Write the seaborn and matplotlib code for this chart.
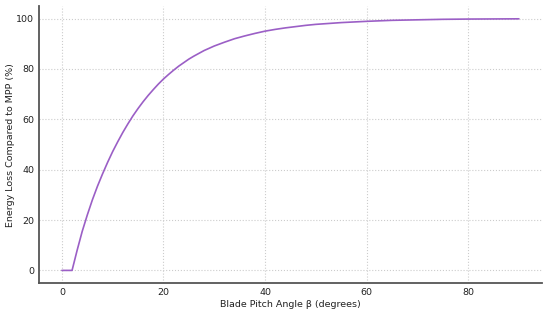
import matplotlib
matplotlib.use("Agg")
import matplotlib.pyplot as plt
import seaborn as sns
import pandas as pd

pitch_angle = [0, 1, 2, 3, 4, 5, 6, 7, 8, 9, 10, 11, 12, 13, 14, 15, 16, 17, 18, 19, 20,
               21, 22, 23, 24, 25, 26, 27, 28, 29, 30, 32, 34, 36, 38, 40, 42, 44, 46, 48,
               50, 55, 60, 65, 70, 75, 80, 85, 90]
energy_loss = [0, 0, 0, 8.0, 15.5, 22.0, 28.0, 33.4, 38.3, 42.9, 47.2, 51.1, 54.8, 58.2,
               61.4, 64.3, 67.0, 69.5, 71.8, 74.0, 76.0, 77.8, 79.5, 81.1, 82.5, 83.9,
               85.1, 86.2, 87.3, 88.2, 89.1, 90.6, 92.0, 93.1, 94.1, 95.0, 95.7, 96.3,
               96.8, 97.3, 97.7, 98.4, 98.9, 99.3, 99.5, 99.7, 99.8, 99.85, 99.9]

df = pd.DataFrame({"angle": pitch_angle, "loss": energy_loss})

sns.set_style("white")
plt.rcParams['font.family'] = ['DejaVu Sans']

fig, ax = plt.subplots(figsize=(5.5, 3.12), dpi=100)
sns.lineplot(data=df, x="angle", y="loss", color="#9b5fc6", linewidth=1.2, ax=ax)

ax.set_xlabel("Blade Pitch Angle β (degrees)", fontsize=6.8, labelpad=2, color="#222222")
ax.set_ylabel("Energy Loss Compared to MPP (%)", fontsize=6.8, labelpad=1, color="#222222")
ax.set_xticks([0, 20, 40, 60, 80])
ax.set_yticks([0, 20, 40, 60, 80, 100])
ax.tick_params(labelsize=6.8, length=2, width=0.8, color="#999999", pad=1.5, labelcolor="#222222")
ax.grid(True, linestyle=":", color="#cccccc", linewidth=0.8)
for s in ["top", "right"]:
    ax.spines[s].set_visible(False)
for s in ["left", "bottom"]:
    ax.spines[s].set_color("#555555")
    ax.spines[s].set_linewidth(1.3)

fig.subplots_adjust(left=0.071, right=0.985, bottom=0.093, top=0.98)
fig.savefig("out.png", dpi=100)
